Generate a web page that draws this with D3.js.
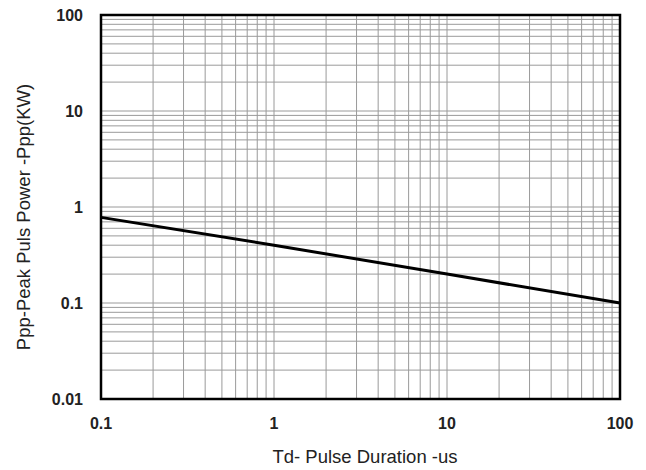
<!DOCTYPE html>
<html>
<head>
    <script src="https://d3js.org/d3.v7.min.js"></script>
    <style>
        body { margin: 0; background: #fff; }
        text { font-family: Arial, "Liberation Sans", sans-serif; }
    </style>
</head>
<body>
    <svg width="646" height="470"></svg>
    <script>
        // pulse duration (us) vs peak pulse power (kW)
        var td = [0.1, 1, 10, 100]
        var ppp = [0.78, 0.40, 0.20, 0.10]
        var xTicks = [0.1, 1, 10, 100]
        var yTicks = [0.01, 0.1, 1, 10, 100]

        const svg = d3.select("svg")
        // note: "top" is taken by window.top, so use plot_* names
        var plot_l = 101, plot_r = 620, plot_t = 15, plot_b = 399

        var x = d3.scaleLog().domain([0.1, 100]).range([plot_l, plot_r])
        var y = d3.scaleLog().domain([0.01, 100]).range([plot_b, plot_t])

        // minor + major grid values
        var xGrid = [], yGrid = []
        for (var e = -1; e < 2; e++) {
            for (var m = 1; m <= 9; m++) xGrid.push(m * Math.pow(10, e))
        }
        for (var e = -2; e < 2; e++) {
            for (var m = 1; m <= 9; m++) yGrid.push(m * Math.pow(10, e))
        }

        svg.append("g").selectAll("line")
            .data(xGrid)
            .enter()
            .append("line")
            .attr("x1", d => x(d))
            .attr("x2", d => x(d))
            .attr("y1", plot_t)
            .attr("y2", plot_b)
            .attr("stroke", "#9a9a9a")
            .style("stroke-width", "1px")

        svg.append("g").selectAll("line")
            .data(yGrid)
            .enter()
            .append("line")
            .attr("x1", plot_l)
            .attr("x2", plot_r)
            .attr("y1", d => y(d))
            .attr("y2", d => y(d))
            .attr("stroke", "#9a9a9a")
            .style("stroke-width", "1px")

        var line = d3.line().x(d => x(d[0])).y(d => y(d[1]))
        svg.append("path")
            .datum(td.map((t, i) => [t, ppp[i]]))
            .attr("d", line)
            .attr("fill", "none")
            .attr("stroke", "#000")
            .style("stroke-width", "3px")

        svg.append("rect")
            .attr("x", plot_l)
            .attr("y", plot_t)
            .attr("width", plot_r - plot_l)
            .attr("height", plot_b - plot_t)
            .attr("fill", "none")
            .attr("stroke", "#000")
            .style("stroke-width", "2.5px")

        svg.append("g").selectAll("text")
            .data(yTicks)
            .enter()
            .append("text")
            .attr("x", 83)
            .attr("y", d => y(d) + 6)
            .attr("text-anchor", "end")
            .style("font-size", "16px")
            .style("font-weight", "bold")
            .attr("fill", "#222")
            .text(d => d)

        svg.append("g").selectAll("text")
            .data(xTicks)
            .enter()
            .append("text")
            .attr("x", d => x(d))
            .attr("y", 429)
            .attr("text-anchor", "middle")
            .style("font-size", "16px")
            .style("font-weight", "bold")
            .attr("fill", "#222")
            .text(d => d)

        svg.append("text")
            .attr("x", 365)
            .attr("y", 463)
            .attr("text-anchor", "middle")
            .style("font-size", "18.5px")
            .attr("fill", "#222")
            .text("Td- Pulse Duration -us")

        svg.append("text")
            .attr("transform", "translate(30,217) rotate(-90)")
            .attr("text-anchor", "middle")
            .style("font-size", "18.5px")
            .attr("fill", "#222")
            .text("Ppp-Peak Puls Power -Ppp(KW)")
    </script>
</body>
</html>
